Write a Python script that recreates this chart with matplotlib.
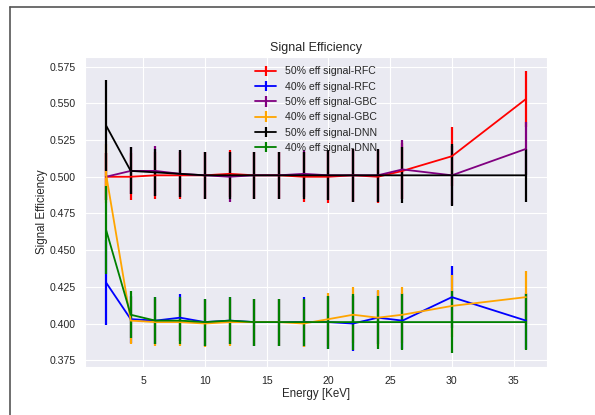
import matplotlib
matplotlib.use('Agg')
import matplotlib.pyplot as plt
from matplotlib.lines import Line2D
import seaborn as sns

# enerji noktalari
energy = [2, 4, 6, 8, 10, 12, 14, 16, 18, 20, 22, 24, 26, 30, 36]

rfc50 = [0.500, 0.500, 0.501, 0.501, 0.501, 0.502, 0.501, 0.501, 0.500, 0.500, 0.501, 0.500, 0.504, 0.514, 0.553]
rfc50_err = [0.016, 0.016, 0.016, 0.016, 0.016, 0.016, 0.016, 0.016, 0.017, 0.018, 0.018, 0.018, 0.019, 0.020, 0.019]

rfc40 = [0.428, 0.403, 0.402, 0.404, 0.401, 0.402, 0.401, 0.401, 0.401, 0.401, 0.400, 0.404, 0.402, 0.418, 0.402]
rfc40_err = [0.029, 0.016, 0.016, 0.016, 0.016, 0.016, 0.016, 0.016, 0.017, 0.018, 0.019, 0.018, 0.019, 0.021, 0.019]

gbc50 = [0.500, 0.504, 0.504, 0.502, 0.501, 0.500, 0.501, 0.501, 0.502, 0.501, 0.501, 0.501, 0.505, 0.501, 0.519]
gbc50_err = [0.016, 0.016, 0.017, 0.016, 0.016, 0.017, 0.016, 0.016, 0.016, 0.017, 0.018, 0.018, 0.020, 0.020, 0.018]

gbc40 = [0.502, 0.402, 0.401, 0.401, 0.400, 0.401, 0.401, 0.401, 0.400, 0.403, 0.406, 0.404, 0.406, 0.412, 0.418]
gbc40_err = [0.020, 0.016, 0.016, 0.016, 0.016, 0.016, 0.016, 0.016, 0.016, 0.018, 0.019, 0.019, 0.019, 0.021, 0.018]

dnn50 = [0.535, 0.504, 0.503, 0.502, 0.501, 0.501, 0.501, 0.501, 0.501, 0.501, 0.501, 0.501, 0.501, 0.501, 0.501]
dnn50_err = [0.031, 0.016, 0.016, 0.016, 0.016, 0.016, 0.016, 0.016, 0.016, 0.017, 0.018, 0.018, 0.019, 0.021, 0.018]

dnn40 = [0.464, 0.406, 0.402, 0.402, 0.401, 0.402, 0.401, 0.401, 0.401, 0.401, 0.401, 0.401, 0.401, 0.401, 0.401]
dnn40_err = [0.030, 0.016, 0.016, 0.016, 0.016, 0.016, 0.016, 0.016, 0.016, 0.018, 0.019, 0.018, 0.019, 0.021, 0.019]

sns.set_style('darkgrid')
plt.rcParams['font.family'] = ['Liberation Sans', 'DejaVu Sans']

fig = plt.figure(figsize=(5.95, 4.15), dpi=100)
ax = fig.add_axes([85 / 595, (415 - 367) / 415, 462 / 595, 310 / 415])

series = [
    (rfc50, rfc50_err, 'red', '50% eff signal-RFC'),
    (rfc40, rfc40_err, 'blue', '40% eff signal-RFC'),
    (gbc50, gbc50_err, 'purple', '50% eff signal-GBC'),
    (gbc40, gbc40_err, 'orange', '40% eff signal-GBC'),
    (dnn50, dnn50_err, 'black', '50% eff signal-DNN'),
    (dnn40, dnn40_err, 'green', '40% eff signal-DNN'),
]
for vals, err, col, lab in series:
    ax.errorbar(energy, vals, yerr=err, color=col, label=lab, lw=1.3, elinewidth=1.6)

ax.set_title('Signal Efficiency', fontsize=9, pad=4)
ax.set_xlabel('Energy [KeV]', fontsize=8.3, labelpad=1.5)
ax.set_ylabel('Signal Efficiency', fontsize=8.3, labelpad=1)
ax.tick_params(labelsize=7.6, pad=3)
ax.set_yticks([0.375, 0.400, 0.425, 0.450, 0.475, 0.500, 0.525, 0.550, 0.575])
ax.yaxis.set_major_formatter(plt.FormatStrFormatter('%.3f'))
ax.legend(loc='upper center', fontsize=7.6, frameon=False)

# ekran goruntusu cercevesi
fig.add_artist(Line2D([10 / 595, 1], [1 - 7.5 / 415, 1 - 7.5 / 415], color='#555555', lw=1.2))
fig.add_artist(Line2D([10 / 595, 10 / 595], [0, 1 - 7.5 / 415], color='#555555', lw=1.2))

fig.savefig('out.png', dpi=100)
